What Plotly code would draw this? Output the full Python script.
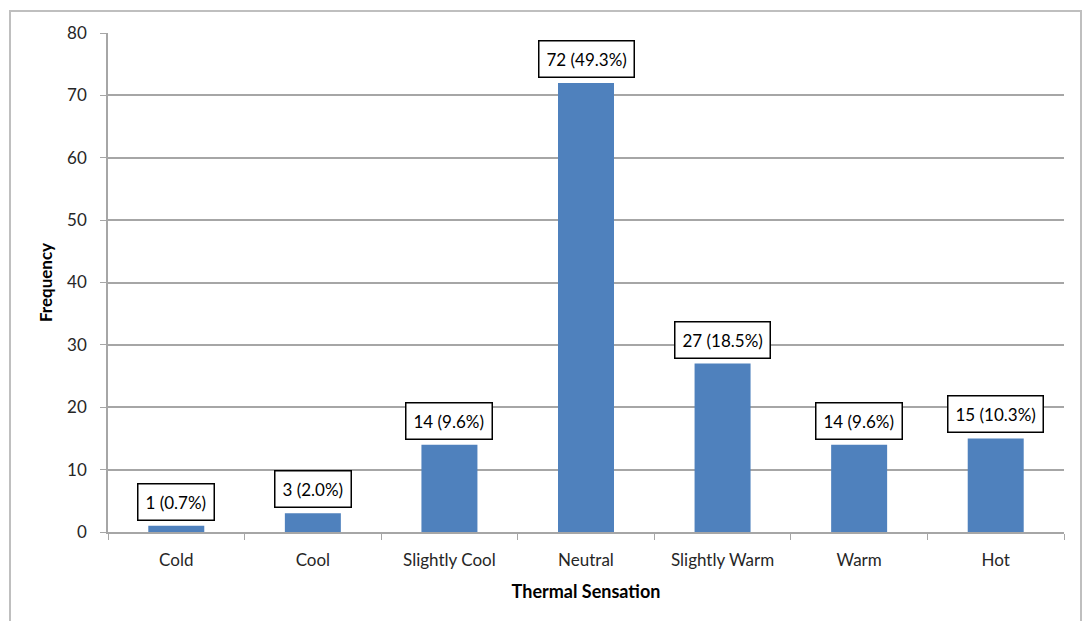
import plotly.graph_objects as go

# Survey results: thermal sensation votes
categories = ["Cold", "Cool", "Slightly Cool", "Neutral", "Slightly Warm", "Warm", "Hot"]
frequency = [1, 3, 14, 72, 27, 14, 15]
percent = [0.7, 2.0, 9.6, 49.3, 18.5, 9.6, 10.3]
y_ticks = [0, 10, 20, 30, 40, 50, 60, 70, 80]

W, H = 1083, 621
L, R, T, B = 108, 19, 33, 89
plot_w = W - L - R
plot_h = H - T - B

bar_color = "#4F81BD"
grid_color = "#A6A6A6"
font_family = "Lato, Open Sans, Liberation Sans, sans-serif"

fig = go.Figure()
fig.add_trace(go.Bar(
    x=categories,
    y=frequency,
    marker=dict(color=bar_color, line=dict(width=0)),
    hoverinfo="x+y",
))

# Boxed value labels above each bar
for cat, val, pct in zip(categories, frequency, percent):
    fig.add_annotation(
        x=cat, y=val, xref="x", yref="y",
        text=f"{val} ({pct:.1f}%)",
        showarrow=False,
        yanchor="bottom",
        yshift=5,
        font=dict(family=font_family, size=17, color="#000000"),
        bgcolor="white",
        bordercolor="#000000",
        borderwidth=1.5,
        borderpad=7,
    )

# Chart-area frame
def px_to_paper_x(px):
    return (px - L) / plot_w

def px_to_paper_y(py):
    return (H - B - py) / plot_h

fig.add_shape(
    type="rect", xref="paper", yref="paper",
    x0=px_to_paper_x(10), x1=px_to_paper_x(1081),
    y0=px_to_paper_y(640), y1=px_to_paper_y(11),
    line=dict(color="#BFBFBF", width=2),
    fillcolor="rgba(0,0,0,0)",
    layer="below",
)

fig.update_layout(
    width=W, height=H,
    margin=dict(l=L, r=R, t=T, b=B),
    paper_bgcolor="white",
    plot_bgcolor="white",
    bargap=0.59,
    showlegend=False,
    font=dict(family=font_family, size=16, color="#262626"),
    xaxis=dict(
        type="category",
        tickson="boundaries",
        ticks="outside",
        ticklen=6,
        tickcolor=grid_color,
        showline=True,
        linecolor=grid_color,
        linewidth=1.5,
        showgrid=False,
        tickfont=dict(size=17),
        ticklabelstandoff=12,
        title=dict(
            text="<b>Thermal Sensation</b>",
            font=dict(size=18, color="#000000"),
            standoff=16,
        ),
    ),
    yaxis=dict(
        range=[0, 80],
        tickvals=y_ticks,
        ticks="outside",
        ticklen=6,
        tickcolor=grid_color,
        showline=True,
        linecolor=grid_color,
        linewidth=1.5,
        showgrid=True,
        gridcolor=grid_color,
        gridwidth=1.5,
        zeroline=False,
        tickfont=dict(size=17),
        ticklabelstandoff=10,
        title=dict(
            text="<b>Frequency</b>",
            font=dict(size=17, color="#000000"),
            standoff=10,
        ),
    ),
)

fig.write_html("out.html")
